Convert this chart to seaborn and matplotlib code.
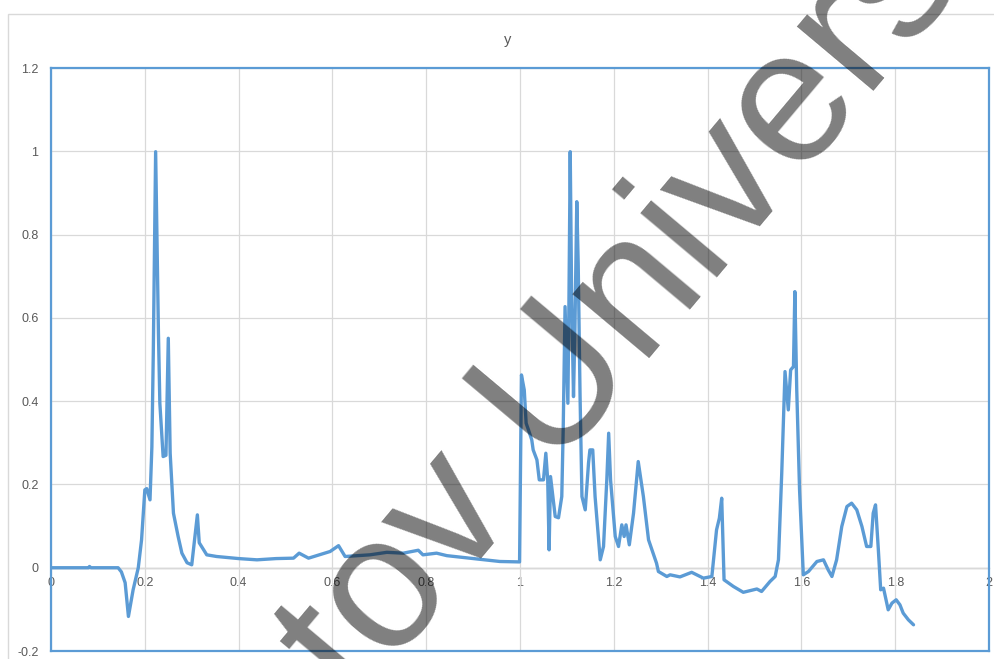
import matplotlib
matplotlib.use('Agg')
import matplotlib.pyplot as plt
from matplotlib.patches import Rectangle
from matplotlib.ticker import FuncFormatter
import numpy as np
import pandas as pd
import seaborn as sns

# values
x_vals = [0.000, 0.080, 0.082, 0.085, 0.143, 0.150, 0.158, 0.165, 0.175, 0.186,
          0.193, 0.200, 0.204, 0.211, 0.215, 0.218, 0.223, 0.229, 0.232, 0.239,
          0.245, 0.250, 0.254, 0.261, 0.271, 0.279, 0.290, 0.300, 0.312, 0.316,
          0.332, 0.353, 0.400, 0.439, 0.480, 0.517, 0.529, 0.549, 0.595, 0.613,
          0.627, 0.680, 0.716, 0.751, 0.783, 0.793, 0.822, 0.844, 0.893, 0.957,
          0.999, 1.003, 1.009, 1.013, 1.018, 1.025, 1.028, 1.036, 1.041, 1.050,
          1.055, 1.059, 1.062, 1.065, 1.075, 1.082, 1.089, 1.092, 1.096, 1.102,
          1.104, 1.107, 1.110, 1.114, 1.117, 1.121, 1.124, 1.128, 1.132, 1.139,
          1.146, 1.149, 1.155, 1.160, 1.171, 1.178, 1.185, 1.189, 1.193, 1.203,
          1.210, 1.217, 1.222, 1.226, 1.233, 1.242, 1.252, 1.263, 1.274, 1.291,
          1.295, 1.313, 1.320, 1.341, 1.366, 1.391, 1.409, 1.419, 1.425, 1.430,
          1.435, 1.455, 1.476, 1.505, 1.515, 1.533, 1.544, 1.551, 1.558, 1.565,
          1.572, 1.577, 1.583, 1.586, 1.590, 1.596, 1.604, 1.615, 1.633, 1.647,
          1.657, 1.665, 1.675, 1.686, 1.697, 1.707, 1.718, 1.729, 1.739, 1.748,
          1.753, 1.758, 1.764, 1.769, 1.775, 1.782, 1.785, 1.793, 1.802, 1.810,
          1.817, 1.828, 1.839]
y_vals = [0.000, 0.000, 0.003, 0.000, 0.000, -0.010, -0.036, -0.117, -0.053, 0.000,
          0.067, 0.187, 0.190, 0.163, 0.290, 0.515, 0.999, 0.563, 0.395, 0.267,
          0.270, 0.551, 0.275, 0.131, 0.075, 0.035, 0.012, 0.007, 0.127, 0.060,
          0.031, 0.027, 0.022, 0.019, 0.022, 0.023, 0.035, 0.023, 0.039, 0.053,
          0.027, 0.031, 0.037, 0.035, 0.042, 0.031, 0.035, 0.029, 0.023, 0.015,
          0.014, 0.463, 0.427, 0.347, 0.331, 0.307, 0.283, 0.259, 0.211, 0.211,
          0.275, 0.211, 0.043, 0.219, 0.123, 0.120, 0.171, 0.331, 0.627, 0.395,
          0.603, 0.999, 0.651, 0.411, 0.571, 0.879, 0.731, 0.411, 0.171, 0.139,
          0.251, 0.283, 0.283, 0.171, 0.019, 0.051, 0.211, 0.323, 0.211, 0.075,
          0.051, 0.103, 0.075, 0.103, 0.055, 0.131, 0.255, 0.171, 0.067, 0.011,
          -0.009, -0.021, -0.017, -0.022, -0.011, -0.025, -0.021, 0.091, 0.119, 0.167,
          -0.029, -0.045, -0.059, -0.051, -0.057, -0.033, -0.021, 0.019, 0.227, 0.471,
          0.379, 0.475, 0.483, 0.663, 0.427, 0.187, -0.017, -0.009, 0.015, 0.019,
          -0.005, -0.021, 0.019, 0.099, 0.147, 0.155, 0.139, 0.099, 0.051, 0.051,
          0.131, 0.151, 0.043, -0.053, -0.049, -0.085, -0.101, -0.085, -0.077, -0.089,
          -0.109, -0.125, -0.137]

x_ticks = [0, 0.2, 0.4, 0.6, 0.8, 1.0, 1.2, 1.4, 1.6, 1.8, 2.0]
y_ticks = [-0.2, 0, 0.2, 0.4, 0.6, 0.8, 1.0, 1.2]
title = "y"
watermark = "tov University"

blue = "#5B9BD5"
grey_txt = "#595959"

sns.set_style("white")
plt.rcParams['font.family'] = ['Liberation Sans', 'DejaVu Sans']

df = pd.DataFrame({"x": x_vals, "y": y_vals})

fig = plt.figure(figsize=(9.95, 6.59), dpi=100)
ax = fig.add_axes([0.0513, 0.0121, 0.9427, 0.8847])

sns.lineplot(data=df, x="x", y="y", sort=False, estimator=None,
             color=blue, lw=2.4, ax=ax)

ax.set_xlim(0, 2)
ax.set_ylim(-0.2, 1.2)
ax.set_xticks(x_ticks)
ax.set_yticks(y_ticks)
ax.grid(True, color="#D9D9D9", lw=0.9)
ax.set_xlabel("")
ax.set_ylabel("")
fmt = FuncFormatter(lambda v, p: "{:g}".format(round(v, 2)))
ax.yaxis.set_major_formatter(fmt)
ax.tick_params(axis='x', labelbottom=False, length=0)
ax.tick_params(axis='y', length=0, pad=9, labelsize=9, labelcolor=grey_txt)
for s in ax.spines.values():
    s.set_color(blue)
    s.set_linewidth(1.6)

# category axis crossing at y = 0, like the spreadsheet chart
y0, y1 = ax.get_ylim()
sec = ax.secondary_xaxis((0 - y0) / (y1 - y0))
sec.set_xticks(x_ticks)
sec.xaxis.set_major_formatter(fmt)
sec.tick_params(length=0, pad=7, labelsize=9, labelcolor=grey_txt)
sec.spines['bottom'].set_color("#BFBFBF")
sec.spines['bottom'].set_linewidth(1.0)

fig.text(0.5106, 0.939, title, ha='center', va='center', fontsize=10.5, color=grey_txt)

# outer chart frame
fig.patches.append(Rectangle((0.008, -0.05), 1.1, 0.9788 + 0.05, transform=fig.transFigure,
                             fill=False, ec="#D9D9D9", lw=1.0))

# watermark
fig.text(0.358, -0.0744, watermark, rotation=50, rotation_mode='anchor',
         ha='left', va='baseline', fontsize=137, color='black', alpha=0.5, zorder=10)

fig.savefig("out.png", dpi=100)
